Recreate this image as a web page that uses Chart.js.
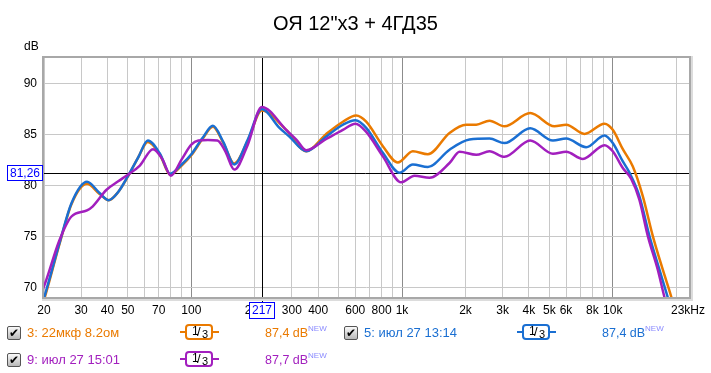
<!DOCTYPE html>
<html>
<head>
<meta charset="utf-8">
<script src="https://cdn.jsdelivr.net/npm/chart.js@4/dist/chart.umd.min.js"></script>
<style>
  body { margin:0; background:#fff; font-family:"Liberation Sans", Arial, sans-serif; }
  #wrap { position:relative; width:711px; height:373px; overflow:hidden; }
  canvas { position:absolute; left:0; top:0; }
  .t { position:absolute; white-space:nowrap; line-height:16px; }
  .chk { position:absolute; width:12px; height:12px; border:1px solid #555; border-radius:2px;
         background:linear-gradient(#fafafa,#b8b8b8); font:bold 12px "DejaVu Sans"; line-height:12px; text-align:center; color:#000; }
  .frac { position:absolute; width:24px; height:12px; border:2px solid; border-radius:4px; background:#fff;
          font-size:12px; line-height:12px; color:#000; }
  .frac span { position:absolute; }
  .stub { position:absolute; height:2px; width:6px; }
  .new { font-size:8px; position:relative; top:-6px; color:#8a8aff; line-height:0; }
</style>
</head>
<body>
<div id="wrap">
  <canvas id="grafica" width="711" height="373"></canvas>
  <div class="t" style="left:0;width:711px;top:12px;text-align:center;font-size:20px;line-height:22px;">ОЯ 12"x3 + 4ГД35</div>
  <div class="t" style="left:24px;top:38px;font-size:12px;">dB</div>
  <div class="t" style="left:671px;top:302px;font-size:12px;">23kHz</div>
  <div id="legenda"></div>
</div>
<script>
const nombres = ["3: 22мкф 8.2ом", "5: июл 27 13:14", "9: июл 27 15:01"];
const colores = ["#ea7a00", "#1a6fd2", "#a21fbe"];
const niveles = ["87,4 dB", "87,4 dB", "87,7 dB"];

const hzNaranja = [19, 20, 23.7, 27, 32, 36.7, 40.6, 45, 50, 56, 62.2, 70.8, 79.4, 90, 100, 113, 126.6, 142, 160, 185, 216, 282, 351, 437, 524, 606, 676, 811, 955, 1125, 1326, 1680, 2014, 2249, 2600, 3062, 4055, 5285, 6010, 7340, 9140, 10000, 11160, 12450, 13880, 15480, 17260, 18900, 20500];
const dbNaranja = [67.4, 68.8, 74.3, 78.2, 80.2, 79.2, 78.6, 79.4, 80.9, 82.8, 84.3, 83.1, 81.1, 82.0, 83.0, 84.6, 85.8, 84.2, 82.2, 84.4, 87.4, 85.5, 83.4, 85.1, 86.3, 86.9, 86.3, 83.9, 82.3, 83.4, 83.1, 85.2, 86.0, 86.0, 86.4, 85.85, 87.15, 85.85, 86.0, 85.1, 86.1, 85.5, 83.6, 81.9, 79.0, 75.1, 71.8, 69.2, 66.5];

const hzAzul = [19, 20, 23.7, 27, 32, 36.7, 40.6, 45, 50, 56, 62.2, 70.8, 79.4, 90, 100, 113, 126.6, 142, 160, 185, 216, 262, 292, 351, 437, 524, 601, 676, 811, 973, 1125, 1326, 1680, 2089, 2600, 3062, 4055, 5200, 6010, 7480, 9140, 10000, 11160, 12000, 13370, 14920, 16640, 18220, 20000];
const dbAzul = [67.6, 69.0, 74.4, 78.3, 80.4, 79.3, 78.6, 79.4, 80.95, 82.8, 84.45, 83.2, 81.2, 82.1, 83.1, 84.7, 85.9, 84.3, 82.1, 84.5, 87.55, 85.7, 84.85, 83.4, 84.85, 86.0, 86.45, 85.7, 83.25, 81.3, 82.1, 81.85, 83.55, 84.55, 84.65, 84.2, 85.65, 84.45, 84.65, 83.8, 84.95, 84.2, 82.4, 81.3, 79.0, 75.1, 71.8, 69.1, 66.2];

const hzMorado = [19, 20, 23.7, 27, 32, 34.1, 39.5, 45, 50, 57, 65.8, 73, 80, 90, 100, 108, 120, 133, 145, 160, 185, 216, 282, 315, 351, 437, 524, 601, 676, 811, 991, 1146, 1350, 1680, 1875, 2249, 2600, 3062, 4055, 5200, 6010, 7210, 9140, 10000, 11160, 12220, 13370, 14660, 16340, 17580, 19500];
const dbMorado = [69.2, 70.15, 74.7, 77.0, 77.6, 78.0, 79.6, 80.45, 81.1, 82.0, 83.6, 82.6, 81.0, 82.6, 84.05, 84.45, 84.5, 84.45, 83.4, 81.6, 84.0, 87.75, 85.5, 84.55, 83.5, 84.6, 85.5, 86.1, 85.3, 82.9, 80.35, 81.0, 80.8, 82.25, 83.35, 83.05, 83.4, 82.85, 84.45, 83.15, 83.35, 82.65, 84.0, 83.4, 81.75, 80.7, 78.65, 75.1, 71.8, 69.1, 66.0];

const xGrid = [20,30,40,50,60,70,80,90,100,200,300,400,500,600,700,800,900,1000,2000,3000,4000,5000,6000,7000,8000,9000,10000,20000];
const xEtiquetas = {20:"20",30:"30",40:"40",50:"50",70:"70",100:"100",200:"200",300:"300",400:"400",600:"600",800:"800",1000:"1k",2000:"2k",3000:"3k",4000:"4k",5000:"5k",6000:"6k",8000:"8k",10000:"10k"};
const yTicks = [70, 75, 80, 85, 90];
const cursorHz = 217;
const cursorDb = 81.26;

function serie(hz, db) { return hz.map((f, i) => ({x: f, y: db[i]})); }

const cursores = {
  id: "cursores",
  beforeDatasetsDraw(chart) {
    const {ctx, chartArea: a, scales: {x, y}} = chart;
    const cx = Math.round(x.getPixelForValue(cursorHz)) + 0.5;
    const cy = Math.round(y.getPixelForValue(cursorDb)) + 0.5;
    ctx.save();
    ctx.strokeStyle = "#000"; ctx.lineWidth = 1;
    ctx.beginPath();
    ctx.moveTo(cx, a.top); ctx.lineTo(cx, a.bottom + 6);
    ctx.moveTo(42, cy); ctx.lineTo(a.right, cy);
    ctx.stroke();
    ctx.restore();
  },
  afterDraw(chart) {
    const {ctx, chartArea: a, scales: {x, y}} = chart;
    const cx = x.getPixelForValue(cursorHz);
    const cy = y.getPixelForValue(cursorDb);
    ctx.save();
    // marco
    ctx.strokeStyle = "#dcdcdc"; ctx.lineWidth = 2;
    ctx.strokeRect(a.left - 1, a.top - 1, a.width + 4, a.height + 4);
    ctx.strokeStyle = "#a8a8a8"; ctx.lineWidth = 2;
    ctx.strokeRect(a.left - 1, a.top - 1, a.width + 2, a.height + 2);
    // cajas de cursor
    ctx.font = "12px 'Liberation Sans'";
    ctx.textBaseline = "middle";
    ctx.textAlign = "center";
    const t1 = cursorDb.toFixed(2).replace(".", ",");
    ctx.fillStyle = "#fff"; ctx.fillRect(7.5, cy - 7.5, 35, 15);
    ctx.strokeStyle = "#0000ff"; ctx.lineWidth = 1; ctx.strokeRect(7.5, Math.round(cy) - 7.5, 35, 15);
    ctx.fillStyle = "#0000ff"; ctx.fillText(t1, 25, Math.round(cy) + 0.5);
    const bx = Math.round(cx);
    ctx.fillStyle = "#fff"; ctx.fillRect(bx - 12.5, 302.5, 25, 16);
    ctx.strokeStyle = "#0000ff"; ctx.strokeRect(bx - 12.5, 302.5, 25, 16);
    ctx.fillStyle = "#0000ff"; ctx.fillText(String(cursorHz), bx, 311);
    ctx.restore();
  }
};

const capas = [3, 2, 1];
const datos = [serie(hzNaranja, dbNaranja), serie(hzAzul, dbAzul), serie(hzMorado, dbMorado)];

new Chart(document.getElementById("grafica").getContext("2d"), {
  type: "line",
  data: {
    datasets: datos.map((d, i) => ({
      label: nombres[i],
      data: d,
      order: capas[i],
      borderColor: colores[i],
      borderWidth: 2.5,
      pointRadius: 0,
      fill: false,
      cubicInterpolationMode: "monotone"
    }))
  },
  options: {
    responsive: false,
    animation: false,
    events: [],
    layout: { padding: { left: 0, right: 22, top: 58, bottom: 0 } },
    plugins: { legend: { display: false }, title: { display: false }, tooltip: { enabled: false } },
    scales: {
      x: {
        type: "logarithmic", min: 20, max: 23000,
        afterBuildTicks: s => { s.ticks = xGrid.map(v => ({value: v})); },
        afterFit: s => { s.height = 76; },
        border: { display: false },
        grid: {
          drawTicks: false,
          color: c => (c.tick && [100, 1000, 10000].includes(c.tick.value)) ? "#8c8c8c" : "#c8c8c8"
        },
        ticks: {
          autoSkip: false, maxRotation: 0, minRotation: 0, padding: 6,
          color: "#000", font: { family: "Liberation Sans", size: 12 },
          callback: v => xEtiquetas[v] || ""
        }
      },
      y: {
        min: 69.1, max: 92.55,
        afterBuildTicks: s => { s.ticks = yTicks.map(v => ({value: v})); },
        afterFit: s => { s.width = 44; },
        border: { display: false },
        grid: { drawTicks: false, color: "#c8c8c8" },
        ticks: { padding: 7, color: "#000", font: { family: "Liberation Sans", size: 12 } }
      }
    }
  },
  plugins: [cursores]
});

// leyenda
const filas = [
  {i: 0, x: 7, y: 325},
  {i: 1, x: 344, y: 325},
  {i: 2, x: 7, y: 352}
];
const leg = document.getElementById("legenda");
filas.forEach(f => {
  const c = colores[f.i];
  leg.insertAdjacentHTML("beforeend", `
    <div class="chk" style="left:${f.x}px;top:${f.y + 1}px">✔</div>
    <div class="t" style="left:${f.x + 20}px;top:${f.y}px;font-size:13px;color:${c}">${nombres[f.i]}</div>
    <div class="stub" style="left:${f.x + 173}px;top:${f.y + 6}px;background:${c}"></div>
    <div class="frac" style="left:${f.x + 178}px;top:${f.y - 1}px;border-color:${c}"><span style="left:5px;top:-1px">1</span><span style="left:10px;top:0px;font-size:13px">/</span><span style="left:15px;top:2px;font-size:11px">3</span></div>
    <div class="stub" style="left:${f.x + 206}px;top:${f.y + 6}px;background:${c}"></div>
    <div class="t" style="left:${f.x + 258}px;top:${f.y}px;font-size:12.5px;color:${c}">${niveles[f.i]}<span class="new">NEW</span></div>
  `);
});
</script>
</body>
</html>
